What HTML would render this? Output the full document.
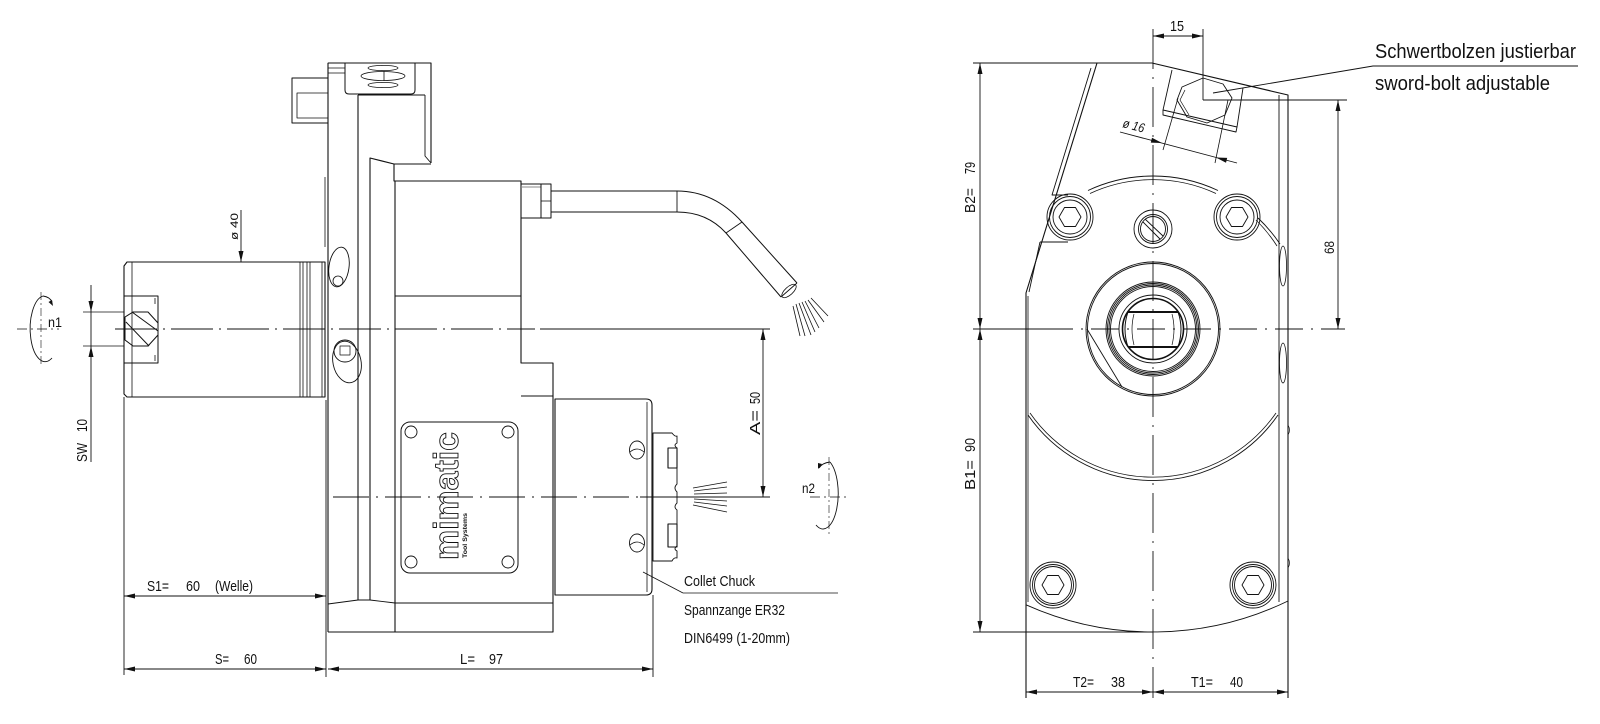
<!DOCTYPE html>
<html><head><meta charset="utf-8"><style>
html,body{margin:0;padding:0;background:#fff;}
svg{display:block;}
text{font-family:"Liberation Sans",sans-serif;fill:#111;}
</style></head><body>
<svg width="1600" height="724" viewBox="0 0 1600 724" xmlns="http://www.w3.org/2000/svg">
<rect width="1600" height="724" fill="#fff"/>
<g fill="none" stroke="#111" stroke-width="1.1" stroke-linejoin="round">
<!-- ===== LEFT VIEW ===== -->
<path d="M124 266 L127 262 H325 V397 H127 L124 394 Z"/>
<line x1="132" y1="262" x2="132" y2="397" stroke-width="0.8"/>
<line x1="300" y1="262" x2="300" y2="397" stroke-width="0.8"/>
<path d="M303 262 V397 M307 262 V397 M310 262 V397" stroke-width="0.8"/>
<line x1="322" y1="262" x2="322" y2="397" stroke-width="0.8"/>
<rect x="124" y="296" width="34" height="67" stroke-width="1"/>
<path d="M155 298 V304 M155 355 V361" stroke-width="0.8"/>
<path d="M125 317 L133 312 H148 L158 323 V335 L148 346 H133 L125 340 Z" stroke-width="1"/>
<path d="M132 312 L158 331 M126 322 L149 346" stroke-width="1"/>
<path d="M328 63 H431 V163"/>
<line x1="328" y1="63" x2="328" y2="632"/>
<path d="M325 177 V247" stroke-width="0.8"/>
<line x1="358" y1="95" x2="358" y2="600"/>
<path d="M370 600 V158 L394 164 H431"/>
<path d="M394 164 V181 H521 V363 H553 V632 H328"/>
<line x1="395" y1="181" x2="395" y2="632"/>
<path d="M425 95 V156 L431 163" stroke-width="0.9"/>
<line x1="358" y1="95" x2="425" y2="95" stroke-width="0.9"/>
<path d="M345 63 V90 Q345 94 349 94 H411 Q415 94 415 90 V63" stroke-width="1"/>
<ellipse cx="383" cy="68" rx="15" ry="2.6" stroke-width="0.8"/>
<ellipse cx="383" cy="76" rx="22" ry="4.5" stroke-width="0.8"/>
<ellipse cx="383" cy="85" rx="15" ry="2.6" stroke-width="0.8"/>
<line x1="384" y1="71" x2="384" y2="81" stroke-width="0.8"/>
<path d="M328 78 V63 H345 M328 68 H345 M328 73 H345" stroke-width="0.8"/>
<rect x="292" y="78" width="36" height="45" stroke-width="1"/>
<path d="M328 93 H297 V118 H328" stroke-width="0.8"/>
<line x1="395" y1="296" x2="521" y2="296" stroke-width="0.9"/>
<line x1="521" y1="396" x2="553" y2="396"/>
<path d="M328 604 L358 600 H370 L395 603 H553" stroke-width="0.9"/>
<ellipse cx="339" cy="267" rx="10" ry="20" transform="rotate(8 339 267)" stroke-width="0.9"/>
<circle cx="338" cy="281" r="5" stroke-width="0.8"/>
<ellipse cx="347" cy="362" rx="14" ry="21" transform="rotate(-12 347 362)" stroke-width="0.9"/>
<circle cx="345" cy="351" r="11" stroke-width="0.9"/>
<rect x="340" y="346" width="10" height="9" stroke-width="0.7"/>
<rect x="521" y="184" width="20" height="34" stroke-width="1"/>
<line x1="521" y1="187" x2="541" y2="187" stroke="#888"/>
<rect x="541" y="184" width="10" height="34" stroke-width="1"/>
<line x1="541" y1="201" x2="551" y2="201" stroke-width="0.8"/>
<path d="M551 191 H677 Q714 191 742 222 L797 283" stroke-width="1"/>
<path d="M551 212 H677 Q707 212 726 233 L781 297" stroke-width="1"/>
<line x1="677" y1="191" x2="677" y2="212" stroke-width="0.9"/>
<line x1="726" y1="233" x2="742" y2="222" stroke-width="0.9"/>
<line x1="797" y1="283" x2="781" y2="297" stroke-width="0.9"/>
<ellipse cx="789" cy="291" rx="9" ry="4" transform="rotate(-42 789 291)" stroke-width="0.8"/>
<g stroke-width="0.8">
<path d="M793 306 L800 336 M796 304 L805 336 M799 303 L811 335 M802 302 L815 332 M805 301 L819 328 M808 300 L824 322 M811 298 L828 316"/>
</g>
<path d="M555 399 H646 Q652 399 652 405 V589 Q652 595 646 595 H555 Z"/>
<line x1="647" y1="402" x2="647" y2="592" stroke-width="0.8"/>
<path d="M653 433 H672 Q675 437 677 436 V443 Q673 445 677 448 V484 Q673 488 677 492 V503 Q673 507 677 510 V546 Q673 549 677 551 V558 Q674 557 672 561 H653 Z" stroke-width="0.9"/>
<rect x="668" y="448" width="9" height="20" stroke-width="1.1"/>
<rect x="668" y="524" width="9" height="23" stroke-width="1.1"/>
<ellipse cx="637" cy="450" rx="7.5" ry="9" stroke-width="0.9"/>
<path d="M630 452 Q637 446 644 452" stroke-width="0.8"/>
<ellipse cx="637" cy="543" rx="7.5" ry="9" stroke-width="0.9"/>
<path d="M630 545 Q637 539 644 545" stroke-width="0.8"/>
<g stroke-width="0.8">
<path d="M693 488 L727 482 M694 491 L727 487 M694 494 L727 493 M694 499 L727 501 M694 502 L727 506 M693 505 L727 512" />
</g>
<rect x="401" y="422" width="117" height="151" rx="9" stroke-width="1"/>
<circle cx="411" cy="432" r="6" stroke-width="0.9"/>
<circle cx="508" cy="432" r="6" stroke-width="0.9"/>
<circle cx="411" cy="562" r="6" stroke-width="0.9"/>
<circle cx="508" cy="562" r="6" stroke-width="0.9"/>
<line x1="124" y1="397" x2="124" y2="675" stroke-width="0.9"/>
<line x1="326" y1="400" x2="326" y2="677" stroke-width="0.9"/>
<line x1="653" y1="595" x2="653" y2="677" stroke-width="0.9"/>
<line x1="124" y1="596" x2="326" y2="596" stroke-width="0.9"/>
<line x1="124" y1="669" x2="326" y2="669" stroke-width="0.9"/>
<line x1="328" y1="669" x2="653" y2="669" stroke-width="0.9"/>
<line x1="91" y1="285" x2="91" y2="462" stroke-width="0.9"/>
<line x1="83" y1="312" x2="124" y2="312" stroke-width="0.8"/>
<line x1="83" y1="346" x2="124" y2="346" stroke-width="0.8"/>
<line x1="241" y1="210" x2="241" y2="262" stroke-width="0.9"/>
<line x1="763" y1="329" x2="763" y2="497" stroke-width="0.9"/>
<line x1="643" y1="572" x2="683" y2="593" stroke-width="0.8"/>
<line x1="683" y1="593" x2="838" y2="593" stroke-width="0.8"/>
<line x1="115" y1="329" x2="535" y2="329" stroke-width="0.9" stroke-dasharray="42 6 2 6"/>
<line x1="540" y1="329" x2="770" y2="329" stroke-width="0.9"/>
<line x1="333" y1="497" x2="640" y2="497" stroke-width="0.9" stroke-dasharray="36 7 2 7"/>
<line x1="640" y1="497" x2="770" y2="497" stroke-width="0.9"/>
<line x1="17" y1="329" x2="59" y2="329" stroke-width="0.8" stroke-dasharray="10 4 2 4"/>
<line x1="41" y1="292" x2="41" y2="367" stroke-width="0.6" stroke-dasharray="8 3 2 3"/>
<path d="M43 296 A15 33 0 1 0 52 358" stroke-width="0.9"/>
<path d="M43 296 Q50 297 52 302" stroke-width="0.9"/>
<line x1="810" y1="497" x2="850" y2="497" stroke-width="0.8" stroke-dasharray="10 4 2 4"/>
<line x1="829" y1="457" x2="829" y2="536" stroke-width="0.6" stroke-dasharray="8 3 2 3"/>
<path d="M830 462 A15 35 0 1 1 816 525" stroke-width="0.9"/>
<path d="M830 462 Q822 463 819 468" stroke-width="0.9"/>

<!-- ===== RIGHT VIEW ===== -->
<line x1="973" y1="63" x2="1152" y2="63" stroke-width="0.9"/>
<path d="M1152 63 L1288 95 V698"/>
<line x1="1279" y1="95" x2="1279" y2="602" stroke-width="0.9"/>
<path d="M1097 63 L1026 293 V698"/>
<line x1="1028" y1="296" x2="1028" y2="602" stroke-width="0.8"/>
<path d="M1091 68 L1052 195 H1068 M1040 242 H1068 M1040 242 L1029 292" stroke-width="0.9"/>
<path d="M1088 190.5 A153 153 0 0 1 1218 190.5" stroke-width="0.9"/>
<path d="M1090 193.5 A150 150 0 0 1 1216 193.5" stroke-width="0.8"/>
<path d="M1258 218 A153 153 0 0 1 1280 244" stroke-width="0.9"/>
<path d="M1256 220 A150 150 0 0 1 1277 246" stroke-width="0.8"/>
<g stroke-width="0.9">
<circle cx="1070" cy="217" r="23"/><circle cx="1070" cy="217" r="20.5"/><circle cx="1070" cy="217" r="17"/>
<polygon points="1081,217 1075.5,226.5 1064.5,226.5 1059,217 1064.5,207.5 1075.5,207.5"/>
<circle cx="1237" cy="217" r="23"/><circle cx="1237" cy="217" r="20.5"/><circle cx="1237" cy="217" r="17"/>
<polygon points="1248,217 1242.5,226.5 1231.5,226.5 1226,217 1231.5,207.5 1242.5,207.5"/>
<circle cx="1153" cy="229" r="19"/><circle cx="1153" cy="229" r="14.5"/><circle cx="1153" cy="229" r="12.5"/>
<path d="M1145 219 L1163 236 M1143 222 L1160 239"/>
</g>
<g stroke-width="0.9">
<circle cx="1153" cy="329" r="67"/><circle cx="1153" cy="329" r="65.5"/>
<circle cx="1153" cy="329" r="47"/><circle cx="1153" cy="329" r="45.5"/><circle cx="1153" cy="329" r="44"/><circle cx="1153" cy="329" r="42.5"/>
<circle cx="1153" cy="329" r="34"/>
<circle cx="1153" cy="329" r="30.5" stroke-width="1.6"/>
<path d="M1128 312 H1178 Q1184 329 1178 347 H1128 Q1122 329 1128 312 Z" stroke-width="1"/>
<path d="M1128 312 H1178 M1128 347 H1178" stroke-width="2"/>
<path d="M1134 314 Q1130 329 1134 345 M1172 314 Q1176 329 1172 345" stroke-width="0.7"/>
</g>
<line x1="1087" y1="329" x2="1122" y2="387" stroke-width="0.9"/>
<path d="M1028 415 A152 152 0 0 0 1278 415" stroke-width="0.9"/>
<path d="M1030 413 A150 150 0 0 0 1276 413" stroke-width="0.8"/>
<path d="M1026 604.8 A310 310 0 0 0 1288 601" stroke-width="0.9"/>
<g stroke-width="0.9">
<circle cx="1053" cy="585" r="23"/><circle cx="1053" cy="585" r="20.5"/><circle cx="1053" cy="585" r="18.5"/>
<polygon points="1064,585 1058.5,594.5 1047.5,594.5 1042,585 1047.5,575.5 1058.5,575.5"/>
<circle cx="1253" cy="585" r="23"/><circle cx="1253" cy="585" r="20.5"/><circle cx="1253" cy="585" r="18.5"/>
<polygon points="1264,585 1258.5,594.5 1247.5,594.5 1242,585 1247.5,575.5 1258.5,575.5"/>
</g>
<ellipse cx="1283" cy="266" rx="3.5" ry="20" stroke-width="0.8"/>
<ellipse cx="1283" cy="363" rx="3.5" ry="20" stroke-width="0.8"/>
<path d="M1288 425 q3 5 0 10 M1288 558 q3 5 0 10" stroke-width="0.7"/>
<path d="M1172 70 L1163 110 L1237 127 L1243 88" stroke-width="0.9"/>
<path d="M1163 110 V115 L1236 132 L1237 127" stroke-width="0.9"/>
<polygon points="1182,87 1203,78 1223,84 1232,98 1225,115 1207,123 1187,117 1177,100" stroke-width="0.9"/>
<path d="M1185 90 L1180 100 L1189 115" stroke-width="0.7"/>
<path d="M1163 150 L1178 98 M1215 163 L1228 100" stroke-width="0.8"/>
<line x1="1120" y1="132" x2="1237" y2="163" stroke-width="0.9"/>
<path d="M1213 93 L1373 66 H1578" stroke-width="0.9"/>
<line x1="1153" y1="36" x2="1203" y2="36" stroke-width="0.9"/>
<line x1="1203" y1="29" x2="1203" y2="100" stroke-width="0.9"/>
<line x1="1203" y1="100" x2="1347" y2="100" stroke-width="0.9"/>
<line x1="1338" y1="100" x2="1338" y2="329" stroke-width="0.9"/>
<line x1="980" y1="63" x2="980" y2="632" stroke-width="0.9"/>
<line x1="973" y1="632" x2="1153" y2="632" stroke-width="0.9"/>
<line x1="1026" y1="692" x2="1288" y2="692" stroke-width="0.9"/>
<line x1="973" y1="329" x2="1045" y2="329" stroke-width="0.9"/>
<line x1="1045" y1="329" x2="1345" y2="329" stroke-width="0.9" stroke-dasharray="28 8 2 8"/>
<line x1="1153" y1="29" x2="1153" y2="698" stroke-width="0.9" stroke-dasharray="40 8 2 8"/>
</g>

<g fill="#111" stroke="none">
<polygon points="91,312 88.5,301 93.5,301"/>
<polygon points="91,346 88.5,357 93.5,357"/>
<polygon points="241,262 238.5,251 243.5,251"/>
<polygon points="124,596 135,593.5 135,598.5"/>
<polygon points="326,596 315,593.5 315,598.5"/>
<polygon points="124,669 135,666.5 135,671.5"/>
<polygon points="326,669 315,666.5 315,671.5"/>
<polygon points="328,669 339,666.5 339,671.5"/>
<polygon points="653,669 642,666.5 642,671.5"/>
<polygon points="763,329 760.5,340 765.5,340"/>
<polygon points="763,497 760.5,486 765.5,486"/>
<polygon points="53,306 48.5,302 52,300"/>
<polygon points="818,469 818,463 822,464"/>
<polygon points="1153,36 1164,33.5 1164,38.5"/>
<polygon points="1203,36 1192,33.5 1192,38.5"/>
<polygon points="1338,100 1335.5,111 1340.5,111"/>
<polygon points="1338,329 1335.5,318 1340.5,318"/>
<polygon points="980,63 977.5,74 982.5,74"/>
<polygon points="980,329 977.5,318 982.5,318"/>
<polygon points="980,329 977.5,340 982.5,340"/>
<polygon points="980,632 977.5,621 982.5,621"/>
<polygon points="1026,692 1037,689.5 1037,694.5"/>
<polygon points="1153,692 1142,689.5 1142,694.5"/>
<polygon points="1153,692 1164,689.5 1164,694.5"/>
<polygon points="1288,692 1277,689.5 1277,694.5"/>
<polygon points="1162,143 1150.8,142.6 1152,137.8"/>
<polygon points="1216,157.5 1226,162.7 1227.2,157.9"/>
</g>

<text transform="translate(458,560) rotate(-90)" font-size="34" font-weight="bold" stroke="#111" stroke-width="0.9" style="fill:none" textLength="128" lengthAdjust="spacingAndGlyphs">mimatic</text>
<text transform="translate(467,558) rotate(-90)" font-size="6" font-weight="bold" textLength="45" lengthAdjust="spacingAndGlyphs">Tool Systems</text>

<text transform="translate(238,240) rotate(-90)" font-size="11" textLength="27" lengthAdjust="spacingAndGlyphs">ø 40</text>
<text x="48" y="327" font-size="14" textLength="14" lengthAdjust="spacingAndGlyphs">n1</text>
<text transform="translate(87,462) rotate(-90)" font-size="15" textLength="19" lengthAdjust="spacingAndGlyphs">SW</text>
<text transform="translate(87,432) rotate(-90)" font-size="15" textLength="13" lengthAdjust="spacingAndGlyphs">10</text>
<text x="147" y="591" font-size="15" textLength="22" lengthAdjust="spacingAndGlyphs">S1=</text>
<text x="186" y="591" font-size="15" textLength="14" lengthAdjust="spacingAndGlyphs">60</text>
<text x="215" y="591" font-size="15" textLength="38" lengthAdjust="spacingAndGlyphs">(Welle)</text>
<text x="215" y="664" font-size="15" textLength="14" lengthAdjust="spacingAndGlyphs">S=</text>
<text x="244" y="664" font-size="15" textLength="13" lengthAdjust="spacingAndGlyphs">60</text>
<text x="460" y="664" font-size="15" textLength="15" lengthAdjust="spacingAndGlyphs">L=</text>
<text x="489" y="664" font-size="15" textLength="14" lengthAdjust="spacingAndGlyphs">97</text>
<text transform="translate(760,435) rotate(-90)" font-size="15" textLength="25" lengthAdjust="spacingAndGlyphs">A=</text>
<text transform="translate(760,404) rotate(-90)" font-size="15" textLength="12" lengthAdjust="spacingAndGlyphs">50</text>
<text x="802" y="493" font-size="14" textLength="13" lengthAdjust="spacingAndGlyphs">n2</text>
<text x="684" y="586" font-size="15" textLength="71" lengthAdjust="spacingAndGlyphs">Collet Chuck</text>
<text x="684" y="615" font-size="15" textLength="101" lengthAdjust="spacingAndGlyphs">Spannzange ER32</text>
<text x="684" y="643" font-size="15" textLength="106" lengthAdjust="spacingAndGlyphs">DIN6499 (1-20mm)</text>

<text x="1170" y="31" font-size="15" textLength="14" lengthAdjust="spacingAndGlyphs">15</text>
<text transform="translate(1122,127) rotate(15)" font-size="13" font-style="italic" textLength="22" lengthAdjust="spacingAndGlyphs">ø 16</text>
<text transform="translate(975,213) rotate(-90)" font-size="15" textLength="25" lengthAdjust="spacingAndGlyphs">B2=</text>
<text transform="translate(975,174) rotate(-90)" font-size="15" textLength="12" lengthAdjust="spacingAndGlyphs">79</text>
<text transform="translate(1334,254) rotate(-90)" font-size="14" textLength="13" lengthAdjust="spacingAndGlyphs">68</text>
<text transform="translate(975,490) rotate(-90)" font-size="15" textLength="30" lengthAdjust="spacingAndGlyphs">B1=</text>
<text transform="translate(975,452) rotate(-90)" font-size="15" textLength="14" lengthAdjust="spacingAndGlyphs">90</text>
<text x="1073" y="687" font-size="15" textLength="21" lengthAdjust="spacingAndGlyphs">T2=</text>
<text x="1111" y="687" font-size="15" textLength="14" lengthAdjust="spacingAndGlyphs">38</text>
<text x="1191" y="687" font-size="15" textLength="22" lengthAdjust="spacingAndGlyphs">T1=</text>
<text x="1230" y="687" font-size="15" textLength="13" lengthAdjust="spacingAndGlyphs">40</text>
<text x="1375" y="58" font-size="20" textLength="201" lengthAdjust="spacingAndGlyphs">Schwertbolzen justierbar</text>
<text x="1375" y="90" font-size="20" textLength="175" lengthAdjust="spacingAndGlyphs">sword-bolt adjustable</text>
</svg>
</body></html>
